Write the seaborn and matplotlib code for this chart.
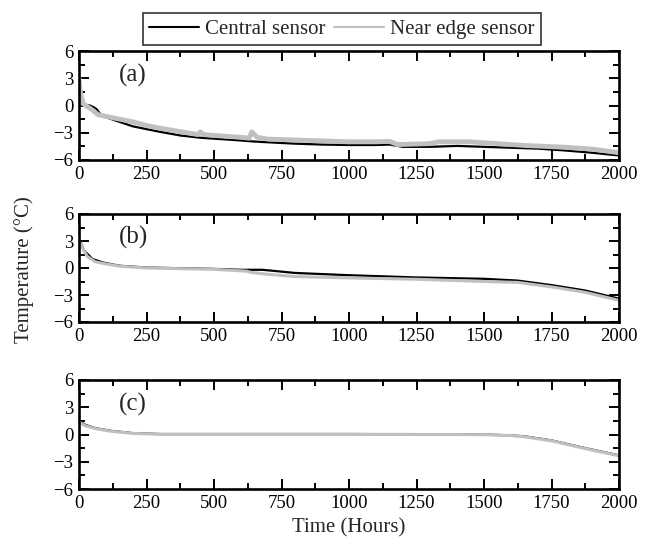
import matplotlib
matplotlib.use("Agg")
import matplotlib.pyplot as plt
import seaborn as sns
from matplotlib.ticker import MultipleLocator

sns.set_theme(style="ticks")
plt.rcParams['font.family'] = ['Liberation Serif', 'DejaVu Serif']

# ---- data ----
series_names = ["Central sensor", "Near edge sensor"]
panel_labels = ["(a)", "(b)", "(c)"]
x_ticks = [0, 250, 500, 750, 1000, 1250, 1500, 1750, 2000]
y_ticks = [-6, -3, 0, 3, 6]

a_central_t = [0, 10, 20, 40, 55, 65, 80, 100, 150, 200, 250, 300, 375, 450, 500, 600, 640,
               700, 800, 900, 1000, 1100, 1150, 1200, 1300, 1400, 1500, 1600, 1700, 1800, 1900, 2000]
a_central_v = [1.5, 0.5, 0.1, 0.0, -0.2, -0.4, -1.0, -1.3, -1.8, -2.3, -2.6, -2.9, -3.3, -3.55, -3.65,
               -3.85, -3.95, -4.05, -4.2, -4.3, -4.35, -4.35, -4.3, -4.55, -4.55, -4.45, -4.55, -4.65,
               -4.75, -4.95, -5.2, -5.5]
a_edge_t = [0, 5, 15, 30, 50, 70, 100, 150, 200, 250, 300, 400, 440, 450, 460, 500, 600, 630,
            640, 660, 700, 800, 900, 1000, 1100, 1150, 1180, 1300, 1330, 1450, 1550, 1650, 1800,
            1900, 2000]
a_edge_v = [3.0, 1.5, 0.2, -0.1, -0.5, -1.0, -1.2, -1.5, -1.8, -2.2, -2.5, -3.0, -3.2, -2.9,
            -3.2, -3.3, -3.5, -3.6, -2.9, -3.5, -3.7, -3.8, -3.9, -4.0, -4.0, -3.95, -4.3, -4.2,
            -4.0, -4.0, -4.2, -4.4, -4.6, -4.8, -5.2]

b_central_t = [0, 20, 50, 90, 150, 250, 500, 600, 680, 800, 1000, 1250, 1500, 1625, 1750, 1875, 2000]
b_central_v = [3.2, 1.9, 1.0, 0.6, 0.25, 0.05, -0.1, -0.2, -0.2, -0.55, -0.8, -1.05, -1.2, -1.4,
               -1.9, -2.5, -3.4]
b_edge_t = [0, 30, 60, 90, 150, 250, 500, 620, 640, 700, 800, 1000, 1250, 1500, 1625, 1750, 1875, 2000]
b_edge_v = [3.0, 1.3, 0.7, 0.5, 0.2, 0.0, -0.15, -0.35, -0.5, -0.7, -0.95, -1.1, -1.25, -1.5,
            -1.6, -2.1, -2.7, -3.6]

c_central_t = [0, 20, 60, 120, 200, 300, 500, 1000, 1500, 1600, 1650, 1750, 1875, 2000]
c_central_v = [1.5, 1.1, 0.7, 0.4, 0.15, 0.05, 0.05, 0.05, 0.0, -0.1, -0.2, -0.65, -1.5, -2.3]
c_edge_t = [0, 20, 60, 120, 200, 300, 500, 1000, 1500, 1600, 1650, 1750, 1875, 2000]
c_edge_v = [1.4, 1.0, 0.65, 0.35, 0.12, 0.02, 0.02, 0.03, -0.02, -0.12, -0.25, -0.7, -1.55, -2.35]

panels = [
    (a_central_t, a_central_v, a_edge_t, a_edge_v),
    (b_central_t, b_central_v, b_edge_t, b_edge_v),
    (c_central_t, c_central_v, c_edge_t, c_edge_v),
]
edge_lw = [3.5, 2.2, 2.2]
EDGE_COLOR = "#c0c0c0"

W, H = 651, 547
fig = plt.figure(figsize=(W / 100, H / 100), dpi=100)
tops = [51, 214, 380]
heights = [109, 108, 109]
left, right = 79, 619

axes = []
for i, (ct, cv, et, ev) in enumerate(panels):
    top = tops[i]
    h = heights[i]
    ax = fig.add_axes([left / W, 1 - (top + h) / H, (right - left) / W, h / H])
    axes.append(ax)
    sns.lineplot(x=ct, y=cv, ax=ax, color="black", lw=1.6, label=series_names[0], legend=False)
    sns.lineplot(x=et, y=ev, ax=ax, color=EDGE_COLOR, lw=edge_lw[i], label=series_names[1], legend=False)
    ax.set_xlim(0, 2000)
    ax.set_ylim(-6, 6)
    ax.set_xticks(x_ticks)
    ax.set_yticks(y_ticks)
    ax.xaxis.set_minor_locator(MultipleLocator(125))
    ax.yaxis.set_minor_locator(MultipleLocator(1.5))
    ax.tick_params(which="both", direction="in", top=True, right=True, width=1.4,
                   labelsize=13.5, colors="black", pad=4)
    ax.tick_params(which="major", length=7)
    ax.tick_params(which="minor", length=4)
    for s in ax.spines.values():
        s.set_linewidth(1.9)
        s.set_color("black")
    ax.set_xlabel("")
    ax.set_ylabel("")
    ax.text(0.10, 0.78, panel_labels[i], transform=ax.transAxes, fontsize=18,
            ha="center", va="center")

leg = fig.legend([plt.Line2D([], [], color="black", lw=1.5),
                  plt.Line2D([], [], color=EDGE_COLOR, lw=1.5)],
                 series_names, ncol=2, loc="upper center",
                 bbox_to_anchor=(342 / W, 1 - 3 / H), fontsize=15, frameon=True,
                 fancybox=False, edgecolor="black", handlelength=2.4, handletextpad=0.3,
                 columnspacing=0.4, borderpad=0.3)
leg.get_frame().set_linewidth(1.2)

fig.text(24 / W, 1 - 270 / H, "Temperature (°C)", rotation=90, fontsize=15,
         ha="center", va="center")
fig.text((left + right) / 2 / W, 1 - 528 / H, "Time (Hours)", fontsize=15,
         ha="center", va="center")

fig.savefig("out.png", dpi=100)
